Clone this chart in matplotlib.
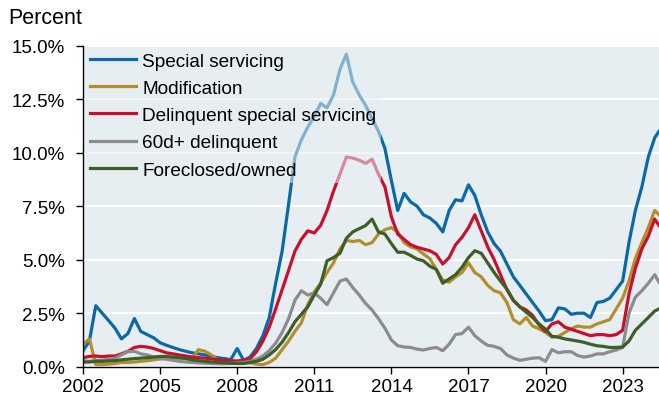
import matplotlib
matplotlib.use("Agg")
import matplotlib.pyplot as plt
import matplotlib.dates as mdates
import pandas as pd

plt.rcParams['font.family'] = ['Liberation Sans', 'DejaVu Sans']

# quarterly observations, 2002Q1 .. 2024Q2, plus a final mid-2024 reading
dates = list(pd.date_range("2002-01-01", "2024-04-01", freq="QS")) + [pd.Timestamp("2024-06-01")]
tick_years = [2002, 2005, 2008, 2011, 2014, 2017, 2020, 2023]
y_ticks = [0, 2.5, 5, 7.5, 10, 12.5, 15]

special_servicing = [
    0.75, 1.2, 2.85, 2.5, 2.15, 1.8, 1.3, 1.55, 2.25, 1.65,
    1.5, 1.35, 1.12, 1.0, 0.9, 0.8, 0.72, 0.65, 0.6, 0.55,
    0.48, 0.42, 0.38, 0.33, 0.85, 0.3, 0.45, 0.85, 1.45, 2.3,
    3.9, 5.4, 7.6, 9.8, 10.6, 11.2, 11.7, 12.3, 12.1, 12.7,
    13.9, 14.6, 13.3, 12.7, 12.2, 11.6, 11.0, 10.2, 8.7, 7.3,
    8.1, 7.7, 7.5, 7.1, 6.95, 6.7, 6.3, 7.3, 7.8, 7.75,
    8.5, 8.0, 7.1, 6.3, 5.75, 5.4, 4.8, 4.2, 3.8, 3.4,
    3.0, 2.6, 2.15, 2.2, 2.75, 2.7, 2.45, 2.5, 2.5, 2.3,
    3.0, 3.05, 3.2, 3.6, 4.0, 5.8, 7.3, 8.4, 9.8, 10.7,
    11.0,
]
modification = [
    1.05, 1.3, 0.1, 0.1, 0.12, 0.15, 0.2, 0.2, 0.22, 0.25,
    0.28, 0.32, 0.36, 0.38, 0.4, 0.4, 0.38, 0.4, 0.8, 0.72,
    0.55, 0.3, 0.25, 0.22, 0.2, 0.2, 0.18, 0.12, 0.1, 0.2,
    0.4, 0.8, 1.2, 1.65, 2.05, 2.9, 3.5, 3.9, 4.4, 4.85,
    5.5, 5.9, 5.85, 5.9, 5.7, 5.8, 6.2, 6.4, 6.5, 6.3,
    5.8, 5.6, 5.5, 5.27, 5.05, 4.55, 4.05, 3.95, 4.2, 4.4,
    4.85, 4.4, 4.2, 3.8, 3.55, 3.45, 3.0, 2.2, 2.0, 2.3,
    1.9, 1.77, 1.6, 1.38, 1.42, 1.6, 1.78, 1.9, 1.85, 1.85,
    2.0, 2.1, 2.2, 2.7, 3.2, 4.0, 5.05, 5.8, 6.5, 7.3,
    7.1,
]
delinquent_ss = [
    0.42, 0.48, 0.5, 0.47, 0.5, 0.5, 0.6, 0.72, 0.9, 0.95,
    0.92, 0.85, 0.75, 0.65, 0.6, 0.55, 0.5, 0.45, 0.42, 0.4,
    0.36, 0.33, 0.3, 0.28, 0.27, 0.3, 0.36, 0.7, 1.2, 1.85,
    2.7, 3.6, 4.5, 5.4, 5.95, 6.35, 6.25, 6.6, 7.3, 8.2,
    9.0, 9.8, 9.75, 9.65, 9.5, 9.7, 9.0, 8.4, 7.0, 6.2,
    5.95, 5.7, 5.58, 5.5, 5.42, 5.25, 4.8, 5.1, 5.7, 6.05,
    6.5, 7.1, 6.35, 5.6, 5.0, 4.3, 3.6, 3.1, 2.8, 2.65,
    2.4, 1.95, 1.65, 2.0, 2.1, 1.85, 1.75, 1.65, 1.55, 1.45,
    1.5, 1.5, 1.45, 1.5, 1.7, 3.4, 4.6, 5.5, 6.1, 6.9,
    6.6,
]
delinquent_60d = [
    0.28, 0.25, 0.3, 0.3, 0.35, 0.4, 0.55, 0.7, 0.72, 0.6,
    0.55, 0.45, 0.4, 0.35, 0.3, 0.25, 0.22, 0.2, 0.18, 0.16,
    0.15, 0.14, 0.14, 0.15, 0.18, 0.2, 0.25, 0.35, 0.5, 0.75,
    1.1, 1.6, 2.25, 3.1, 3.55, 3.35, 3.45, 3.2, 2.9, 3.45,
    4.0, 4.1, 3.7, 3.35, 2.95, 2.65, 2.25, 1.8, 1.25, 0.98,
    0.92, 0.9, 0.82, 0.78, 0.85, 0.9, 0.75, 1.05, 1.5, 1.55,
    1.85, 1.45, 1.2, 1.0, 0.95, 0.85, 0.55, 0.4, 0.3, 0.35,
    0.4, 0.42, 0.25, 0.8, 0.65, 0.7, 0.7, 0.52, 0.45, 0.5,
    0.6, 0.6, 0.7, 0.78, 0.9, 2.5, 3.25, 3.55, 3.9, 4.3,
    3.95,
]
foreclosed = [
    0.22, 0.22, 0.25, 0.25, 0.27, 0.28, 0.32, 0.35, 0.38, 0.4,
    0.42, 0.45, 0.48, 0.48, 0.45, 0.42, 0.38, 0.32, 0.28, 0.25,
    0.22, 0.2, 0.18, 0.16, 0.15, 0.15, 0.2, 0.25, 0.35, 0.55,
    0.8, 1.15, 1.6, 2.1, 2.45, 2.8, 3.35, 3.85, 4.95, 5.1,
    5.3, 6.0, 6.3, 6.45, 6.6, 6.9, 6.3, 6.2, 5.75, 5.35,
    5.35, 5.2, 5.03, 4.95, 4.7, 4.55, 3.9, 4.1, 4.3, 4.65,
    5.1, 5.42, 5.3, 4.85, 4.4, 4.0, 3.63, 3.1, 2.8, 2.55,
    2.3, 2.0, 1.75, 1.42, 1.38, 1.3, 1.25, 1.2, 1.14, 1.05,
    0.98, 0.95, 0.9, 0.9, 0.92, 1.2, 1.7, 2.0, 2.3, 2.6,
    2.7,
]

series = [
    ("Special servicing", special_servicing, "#0b69a6"),
    ("Modification", modification, "#b38f2c"),
    ("Delinquent special servicing", delinquent_ss, "#c8102e"),
    ("60d+ delinquent", delinquent_60d, "#8c8c8c"),
    ("Foreclosed/owned", foreclosed, "#3c5f27"),
]
bg = "#e6eef2"

fig = plt.figure(figsize=(6.59, 4.02), dpi=100)
ax = fig.add_axes([0.126, 0.0853, 0.874, 0.7985])
ax.set_facecolor(bg)

for label, vals, color in series:
    ax.plot(dates, vals, color=color, lw=2.3, label=label)

ax.set_ylim(0, 15)
ax.set_yticks(y_ticks)
ax.set_yticklabels([f"{v:.1f}%" for v in y_ticks])
ax.grid(axis="y", color="white", lw=1.6)
ax.set_axisbelow(True)

ax.set_xlim(pd.Timestamp("2002-01-01"), pd.Timestamp("2024-06-01"))
ax.set_xticks([pd.Timestamp(f"{y}-01-01") for y in tick_years])
ax.xaxis.set_major_formatter(mdates.DateFormatter("%Y"))

for s in ["top", "right"]:
    ax.spines[s].set_visible(False)
for s in ["left", "bottom"]:
    ax.spines[s].set_linewidth(1.0)
ax.tick_params(axis="both", labelsize=13.5, length=5, width=1.0, colors="black")
ax.tick_params(axis="y", pad=8)
ax.tick_params(axis="x", pad=3)

leg = ax.legend(loc="upper left", fontsize=13.7, frameon=True, facecolor=bg,
                framealpha=0.55, edgecolor="none", handlelength=2.45,
                handletextpad=0.3, labelspacing=0.52, borderaxespad=0.1,
                borderpad=0.25)
leg.get_frame().set_linewidth(0)

fig.text(0.012, 0.94, "Percent", fontsize=15.5, ha="left", va="baseline")

fig.savefig("out.png", dpi=100)
